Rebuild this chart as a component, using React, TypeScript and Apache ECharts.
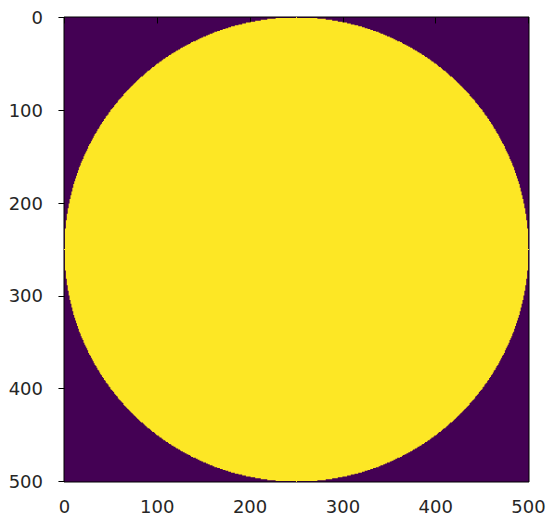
import React, { useEffect, useRef } from "react";
import * as echarts from "echarts";

// Image: a 501 x 501 binary mask (0 = outside, 1 = inside a disc)
const imageSize = 501;
const circleCenter = [250, 250];
const circleRadius = 250;
const xTickValues = [0, 100, 200, 300, 400, 500];
const yTickValues = [0, 100, 200, 300, 400, 500];
const colorOff = "#440154"; // viridis min
const colorOn = "#fde725"; // viridis max

// Build the row spans of the mask (value 1 cells) from the disc definition
function buildRowSpans(): number[][] {
  const spans: number[][] = [];
  for (let r = 0; r < imageSize; r++) {
    let x0 = -1;
    let x1 = -1;
    for (let c = 0; c < imageSize; c++) {
      const dx = c - circleCenter[0];
      const dy = r - circleCenter[1];
      if (dx * dx + dy * dy <= circleRadius * circleRadius) {
        if (x0 < 0) x0 = c;
        x1 = c;
      }
    }
    if (x0 >= 0) spans.push([r, x0, x1]);
  }
  return spans;
}

export default function App() {
  const ref = useRef<HTMLDivElement>(null);
  useEffect(() => {
    if (!ref.current) return;
    const chart = echarts.init(ref.current, null, { renderer: "svg" });
    const spans = buildRowSpans();
    const labelStyle = {
      color: "#262626",
      fontFamily: "DejaVu Sans",
      fontSize: 18,
    };
    chart.setOption({
      animation: false,
      backgroundColor: "#ffffff",
      grid: {
        left: 64,
        top: 17,
        width: 465,
        height: 465,
        show: true,
        backgroundColor: colorOff,
        borderColor: "#000000",
        borderWidth: 1,
        z: 0,
      },
      xAxis: {
        type: "value",
        min: -0.5,
        max: imageSize - 0.5,
        splitLine: { show: false },
        axisLine: { show: false },
        axisTick: {
          show: true,
          customValues: xTickValues,
          length: 6,
          lineStyle: { color: "#000000", width: 1 },
        },
        axisLabel: {
          ...labelStyle,
          customValues: xTickValues,
          margin: 15,
        },
      },
      yAxis: {
        type: "value",
        inverse: true,
        min: -0.5,
        max: imageSize - 0.5,
        splitLine: { show: false },
        axisLine: { show: false },
        axisTick: {
          show: true,
          customValues: yTickValues,
          length: 6,
          lineStyle: { color: "#000000", width: 1 },
        },
        axisLabel: {
          ...labelStyle,
          customValues: yTickValues,
          margin: 21,
        },
      },
      series: [
        {
          type: "custom",
          clip: true,
          data: spans,
          encode: { x: [1, 2], y: 0 },
          renderItem: (params: any, api: any) => {
            if (params.dataIndex !== 0) return null;
            // Staircase outline of all the rows' spans (right side down, left side up)
            const right: number[][] = [];
            const left: number[][] = [];
            for (const [r, x0, x1] of spans) {
              right.push(api.coord([x1 + 0.5, r - 0.5]));
              right.push(api.coord([x1 + 0.5, r + 0.5]));
              left.push(api.coord([x0 - 0.5, r - 0.5]));
              left.push(api.coord([x0 - 0.5, r + 0.5]));
            }
            const points = right.concat(left.reverse());
            return {
              type: "polygon",
              shape: { points },
              style: { fill: colorOn },
            };
          },
        },
      ],
    });
    return () => chart.dispose();
  }, []);
  return (
    <div
      ref={ref}
      style={{ position: "absolute", left: 0, top: 0, width: 551, height: 516 }}
    />
  );
}
